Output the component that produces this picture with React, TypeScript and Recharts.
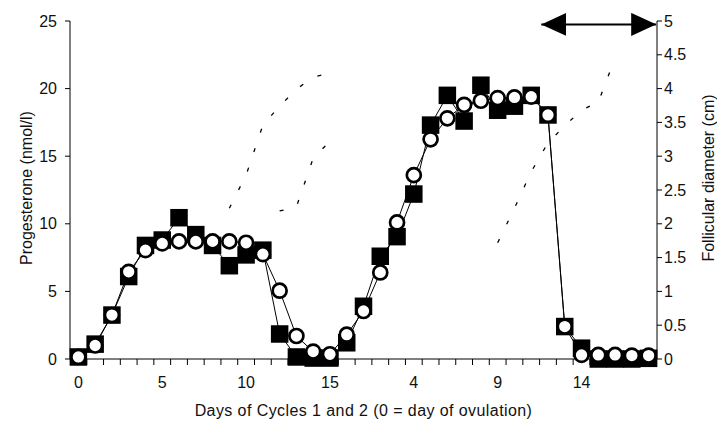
import { ComposedChart, Line, ReferenceLine, XAxis, YAxis } from "recharts";

// day numbering restarts at ovulation of cycle 2
const CYCLE_1_DAYS = [0, 1, 2, 3, 4, 5, 6, 7, 8, 9, 10, 11, 12, 13, 14, 15];
const CYCLE_2_DAYS = [0, 1, 2, 3, 4, 5, 6, 7, 8, 9, 10, 11, 12, 13, 14, 15, 16, 17, 18];
const DAY_LABELS = [...CYCLE_1_DAYS, ...CYCLE_2_DAYS];
const LABELLED_POSITIONS = [0, 5, 10, 15, 20, 25, 30];

const LEFT_TICKS = [0, 5, 10, 15, 20, 25];
const RIGHT_TICKS = [0, 0.5, 1, 1.5, 2, 2.5, 3, 3.5, 4, 4.5, 5];

// progesterone (nmol/l), filled squares
const PROGESTERONE_SQUARES = [
  0.15, 1.1, 3.25, 6.1, 8.4, 8.8, 10.45, 9.2, 8.4, 6.9, 7.7, 8.05, 1.85, 0.15, 0.07, 0.07,
  1.2, 3.9, 7.6, 9.05, 12.2, 17.3, 19.5, 17.6, 20.25, 18.4, 18.7, 19.5, 18.05, 2.4, 0.8, 0.0, 0.0, 0.0, 0.05,
];

// progesterone (nmol/l), open circles
const PROGESTERONE_CIRCLES = [
  0.15, 1.0, 3.25, 6.45, 8.05, 8.55, 8.7, 8.7, 8.7, 8.7, 8.6, 7.75, 5.05, 1.7, 0.55, 0.35,
  1.8, 3.55, 6.4, 10.1, 13.6, 16.25, 17.8, 18.8, 19.1, 19.3, 19.35, 19.4, 18.05, 2.4, 0.3, 0.3, 0.3, 0.25, 0.25,
];

// follicular diameter (cm), dotted curves
const FOLLICLE_A_FROM = 9;
const FOLLICLE_A = [2.23, 2.72, 3.46, 3.74, 3.99, 4.17, 4.23];
const FOLLICLE_B_FROM = 12;
const FOLLICLE_B = [2.19, 2.25, 2.97, 3.22];
const FOLLICLE_C_FROM = 25;
const FOLLICLE_C = [1.72, 2.23, 2.77, 3.2, 3.45, 3.68, 3.8, 4.45];

// double arrow above cycle 2
const ARROW_FROM = 27.6;
const ARROW_TO = 34.45;
const ARROW_LEVEL = 24.75;

const FONT = "'Liberation Sans', Arial, sans-serif";
const TICK_MARKS = DAY_LABELS.slice(1).map((_, i) => i + 0.5);

function pick(values: number[], from: number, index: number): number | null {
  return index >= from && index < from + values.length ? values[index - from] : null;
}

const chartData = DAY_LABELS.map((day, idx) => ({
  idx,
  day,
  squares: PROGESTERONE_SQUARES[idx],
  circles: PROGESTERONE_CIRCLES[idx],
  follA: pick(FOLLICLE_A, FOLLICLE_A_FROM, idx),
  follB: pick(FOLLICLE_B, FOLLICLE_B_FROM, idx),
  follC: pick(FOLLICLE_C, FOLLICLE_C_FROM, idx),
}));

function SquareDot(props: any) {
  const { cx, cy, index } = props;
  if (cx == null || cy == null) return <g key={index} />;
  return <rect key={index} x={cx - 8.75} y={cy - 8.75} width={17.5} height={17.5} fill="#000" />;
}

function LeftTitle(props: any) {
  const { x, y, height } = props.viewBox;
  const cx = x + 26;
  const cy = y + height / 2 - 2;
  return (
    <text x={cx} y={cy} transform={`rotate(-90 ${cx} ${cy})`} textAnchor="middle" dominantBaseline="central"
      fontFamily={FONT} fontSize={16} fill="#111">
      Progesterone (nmol/l)
    </text>
  );
}

function RightTitle(props: any) {
  const { x, y, width, height } = props.viewBox;
  const cx = x + width - 9;
  const cy = y + height / 2 - 12;
  return (
    <text x={cx} y={cy} transform={`rotate(-90 ${cx} ${cy})`} textAnchor="middle" dominantBaseline="central"
      fontFamily={FONT} fontSize={16} fill="#111">
      Follicular diameter (cm)
    </text>
  );
}

function BottomTitle(props: any) {
  const { x, y, width, height } = props.viewBox;
  return (
    <text x={x + width / 2} y={y + height - 5} textAnchor="middle" fontFamily={FONT} fontSize={16}
      letterSpacing={0.42} fill="#111">
      Days of Cycles 1 and 2 (0 = day of ovulation)
    </text>
  );
}

const tickStyle = { fontFamily: FONT, fontSize: 16, fill: "#111" };
const follicleLine = { stroke: "#000", strokeWidth: 1.3, strokeDasharray: "4 16.5", dot: false, isAnimationActive: false };

export default function App() {
  return (
    <div style={{ position: "absolute", left: 0, top: 0, width: 717, height: 421, background: "#fff" }}>
      <svg width={0} height={0} style={{ position: "absolute" }}>
        <defs>
          <marker id="arrowHead" viewBox="0 0 10 10" refX="10" refY="5" markerWidth="25" markerHeight="23"
            markerUnits="userSpaceOnUse" orient="auto-start-reverse" preserveAspectRatio="none">
            <path d="M0,0 L10,5 L0,10 z" fill="#000" />
          </marker>
        </defs>
      </svg>
      <ComposedChart width={717} height={421} data={chartData} margin={{ top: 21, right: 0, bottom: 0, left: 0 }}>
        <XAxis
          xAxisId="days"
          dataKey="idx"
          type="number"
          domain={[-0.5, 34.5]}
          ticks={LABELLED_POSITIONS}
          interval={0}
          tickFormatter={(v) => String(DAY_LABELS[v])}
          tick={tickStyle}
          tickSize={0}
          tickMargin={12}
          axisLine={false}
          tickLine={false}
          height={56}
          label={<BottomTitle />}
        />
        <XAxis
          xAxisId="axisMarks"
          dataKey="idx"
          type="number"
          domain={[-0.5, 34.5]}
          ticks={TICK_MARKS}
          interval={0}
          tickFormatter={() => ""}
          tickSize={6}
          height={6}
          axisLine={{ stroke: "#000" }}
          tickLine={{ stroke: "#000" }}
        />
        <YAxis
          yAxisId="left"
          domain={[0, 25]}
          ticks={LEFT_TICKS}
          interval={0}
          width={70}
          tickSize={5}
          tickMargin={8}
          tick={tickStyle}
          axisLine={{ stroke: "#000" }}
          tickLine={{ stroke: "#000" }}
          label={<LeftTitle />}
        />
        <YAxis
          yAxisId="right"
          orientation="right"
          domain={[0, 5]}
          ticks={RIGHT_TICKS}
          interval={0}
          width={60}
          tickSize={5}
          tickMargin={2}
          tick={tickStyle}
          axisLine={{ stroke: "#000" }}
          tickLine={{ stroke: "#000" }}
          label={<RightTitle />}
        />
        <Line xAxisId="days" yAxisId="right" type="linear" dataKey="follA" {...follicleLine} />
        <Line xAxisId="days" yAxisId="right" type="linear" dataKey="follB" {...follicleLine} />
        <Line xAxisId="days" yAxisId="right" type="linear" dataKey="follC" {...follicleLine} />
        <Line
          xAxisId="days"
          yAxisId="left"
          type="linear"
          dataKey="squares"
          stroke="#000"
          strokeWidth={1}
          dot={<SquareDot />}
          activeDot={false}
          isAnimationActive={false}
        />
        <Line
          xAxisId="days"
          yAxisId="left"
          type="linear"
          dataKey="circles"
          stroke="#000"
          strokeWidth={1}
          dot={{ r: 7, fill: "#fff", stroke: "#000", strokeWidth: 2.7 }}
          activeDot={false}
          isAnimationActive={false}
        />
        <ReferenceLine
          xAxisId="days"
          yAxisId="left"
          segment={[
            { x: ARROW_FROM, y: ARROW_LEVEL },
            { x: ARROW_TO, y: ARROW_LEVEL },
          ]}
          stroke="#000"
          strokeWidth={2}
          ifOverflow="visible"
          markerStart="url(#arrowHead)"
          markerEnd="url(#arrowHead)"
        />
      </ComposedChart>
    </div>
  );
}
